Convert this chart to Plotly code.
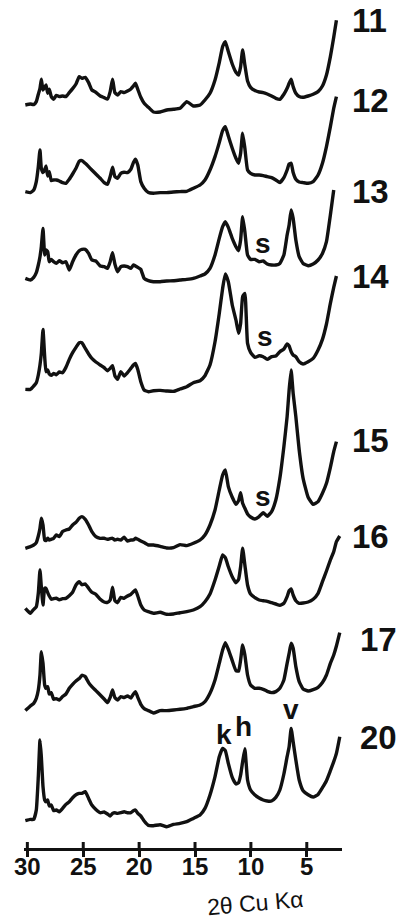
import plotly.graph_objects as go

# Common 2-theta scan grid (degrees, Cu K-alpha)
two_theta = [30.18, 29.73, 29.43, 29.20, 29.02, 28.87, 28.75, 28.60, 28.45, 28.33,
             28.18, 28.04, 27.86, 27.65, 27.41, 27.14, 26.85, 26.55, 26.25, 25.95,
             25.65, 25.36, 25.12, 24.82, 24.52, 24.23, 23.87, 23.48, 23.13, 22.83,
             22.59, 22.38, 22.17, 21.93, 21.64, 21.34, 21.04, 20.74, 20.51, 20.33,
             20.12, 19.85, 19.55, 19.17, 18.72, 18.12, 17.53, 16.93, 16.34, 15.74,
             15.15, 14.55, 14.11, 13.66, 13.21, 12.83, 12.53, 12.29, 12.02, 11.67,
             11.34, 11.10, 10.92, 10.74, 10.54, 10.30, 10.03, 9.64, 9.26, 8.90,
             8.54, 8.15, 7.77, 7.41, 7.05, 6.76, 6.58, 6.40, 6.22, 5.98,
             5.68, 5.33, 4.88, 4.43, 3.99, 3.60, 3.24, 2.89, 2.59, 2.35, 2.05]

# Diffracted intensity (arbitrary units) for each sample
sample_11 = [8.3, 9.3, 8.7, 11.7, 19, 25, 34, 23.3, 26, 28.3,
             20, 24, 16.7, 14, 18, 16.7, 17.3, 16.7, 20.7, 24.7,
             29.3, 36.7, 35, 36, 30.7, 23.3, 21, 17.3, 15.7, 14.3,
             21.7, 34, 20.7, 18.3, 21.7, 20.7, 22.3, 24.3, 27.3, 30,
             24, 16, 10, 6, 1.3, 1.3, 3.3, 4, 5, 11.7,
             7.3, 8.3, 13.3, 20, 33.3, 50.7, 66.7, 71.7, 61.7, 49.3,
             41, 38.3, 46.7, 63.3, 48.3, 32.3, 26, 22.7, 21.3, 20.7,
             19.3, 17.3, 15, 14, 19, 25, 30, 34, 26.7, 20,
             16.7, 16, 17.3, 19, 21.7, 27.3, 38.3, 56.7, 76, 93, None]

sample_12 = [1.7, 0.7, 3.3, 11.7, 26.7, 43.3, 25, 20.7, 23.3, 27.3,
             17.3, 21.7, 12.7, 13.3, 13.3, 12.3, 10.7, 10, 14, 19.3,
             25, 32, 32.7, 30, 26.7, 23.3, 19.3, 15, 10.7, 9,
             16.7, 26, 16.7, 15, 20, 21, 20.7, 24, 30.7, 34,
             28.3, 11.7, 5, 0.7, 0, 0.7, 0.7, 1.3, 1.7, 2,
             5, 8.3, 13.3, 23.3, 36.7, 50.7, 62.7, 66.7, 57.3, 45,
             35, 30, 40, 60, 45, 23.3, 20, 18.3, 18.3, 17.7,
             16.7, 15.7, 13.3, 10.7, 15.7, 23.3, 29.3, 30, 20.7, 14,
             11.3, 10.7, 10, 11.7, 18.3, 30, 46.7, 66.7, 85, 96.7, None]

sample_13 = [3.3, 1.7, 4.3, 9, 16.7, 25, 35, 53.3, 26.7, 31.7,
             30, 20, 22.3, 20, 18.3, 21, 19, 20, 11.7, 20,
             26.7, 31, 32.3, 32.3, 28.3, 21.7, 20.7, 15.7, 15, 13.3,
             20, 29, 17.7, 10, 15, 15.7, 15, 13.3, 16.7, 15.7,
             14.3, 12.3, 3.3, 1, 0, 0, 0.7, 1, 1.7, 2.3,
             3.3, 5.7, 7.7, 13.3, 26.7, 43.3, 55, 60, 54.3, 43.3,
             35, 31, 41.7, 65, 50, 26.7, 22.3, 22.3, 20, 20.7,
             17.7, 16.7, 16.7, 18.3, 26.7, 46.7, 56.7, 71.7, 63.3, 41.7,
             25, 18.3, 16, 17.7, 21.7, 28.3, 40, 66.7, 91.7, None, None]

sample_14 = [2.3, 2.3, 5.7, 9, 16.7, 26.7, 38.3, 62.3, 35, 20,
             21.7, 17.7, 16.3, 18.3, 17, 19.7, 19, 24.3, 32.3, 39,
             44.3, 49, 49, 43.3, 37.7, 33.3, 29.7, 26.7, 24, 21,
             23.3, 26, 16, 12.3, 20, 15.7, 19, 23.3, 26.7, 28.3,
             22.3, 10, 1.7, 0, 1, 1.3, 0.7, 0.3, 2.7, 5,
             9, 11, 16, 26.7, 50, 78.3, 103.3, 117.7, 110, 86.7,
             71.7, 58.3, 68.3, 95, 98.3, 48.3, 39.3, 34.3, 36, 35,
             32.3, 35, 35.7, 40, 42.7, 47.7, 45.7, 40, 36.7, 35,
             30, 27.7, 30, 33.3, 41.7, 52.3, 67.7, 88.3, 104.3, 115.7, None]

sample_15 = [0, 1.7, 3.3, 5.7, 12.3, 20, 30, 23.3, 8.3, 7.7,
             10, 8.3, 9, 10, 13.3, 11.7, 16.7, 18.3, 19.3, 23.3,
             26, 30, 31.7, 29, 23.3, 16.7, 11.7, 10, 10, 9,
             9.7, 10, 8.3, 9, 8.3, 11, 7.3, 8.3, 8.3, 10,
             9, 7.3, 5.7, 3.3, 3.3, 2, 0.3, 0.7, 3.7, 2.7,
             5, 8.3, 13.3, 23.3, 38.3, 58.3, 73.3, 78.3, 61.7, 51,
             44, 47.7, 55.7, 45, 40, 34.3, 31.3, 29.3, 31.7, 35.7,
             32, 36.7, 48.3, 70, 101.7, 131.7, 158.3, 178.3, 155, 131.7,
             98.3, 70, 51, 44, 46.7, 55, 65, 81, 96.7, 106.7, None]

sample_16 = [6.7, 1.7, 5.7, 8.3, 21.7, 45, 28.3, 10, 26.7, 26.7,
             22.3, 19, 15.7, 16.3, 16.7, 15.3, 16.3, 16.7, 19.3, 22.7,
             30, 33.3, 30.3, 31, 26.7, 22.7, 20.7, 15.7, 13, 12.7,
             15, 27.7, 14.3, 12.3, 17.7, 16.7, 19, 20.7, 23.3, 25,
             19, 10, 5, 3.3, 1.7, 2.7, 0.7, 1, 2.3, 3.3,
             5, 8.3, 13.3, 21, 35, 49, 60, 57.3, 48.3, 38.3,
             32.3, 35.7, 48.3, 66.7, 50, 30, 21, 17.3, 15, 14.3,
             13.7, 12.3, 11, 9.7, 11.7, 18.3, 24.3, 26, 20, 14.3,
             11.7, 12, 13, 15.7, 21.7, 33.3, 44, 55, 63.3, 73.3, 79]

sample_17 = [2.7, 7.3, 10, 15, 23.3, 38.3, 61.7, 50, 28.3, 25,
             26.7, 19.3, 20.7, 14, 14.7, 13.3, 16.7, 19.3, 25, 29,
             32.3, 34.7, 38, 36.7, 30.7, 26.7, 22.7, 18.3, 14.3, 10.7,
             16, 23.3, 15.7, 13.3, 16.7, 15.7, 17.3, 15.3, 19.3, 21.7,
             16, 9, 4.7, 2.7, 0.3, 2.7, 2.7, 3.3, 4, 5,
             6.7, 8.3, 11.7, 20, 33.3, 50, 63.3, 70.7, 64, 52.7,
             42.7, 42.3, 53.3, 68.3, 58.3, 38.3, 28.3, 25, 25, 24,
             22, 20.7, 21.7, 25, 33.3, 50, 60, 70, 65, 46.7,
             31.7, 24.3, 22.3, 23.7, 26, 30.7, 38.3, 50, 58.3, 67.3, 80.7]

sample_20 = [6, 7.3, 7.3, 16.7, 50, 86.7, 70, 40, 26.7, 25,
             26.7, 20.7, 21.7, 16, 16.7, 15, 18.3, 22.3, 25, 29,
             32, 33.3, 33.3, 35, 28.3, 21.7, 17.3, 14, 14.7, 12.7,
             10.7, 13.3, 14, 13.3, 14, 15, 14, 14, 16, 16.7,
             13.3, 10.7, 5.7, 1.3, 1, 2, 0, 2.3, 3.3, 5,
             8.3, 11.7, 18.3, 31.7, 50, 70, 78.3, 76, 63.3, 49.3,
             42.7, 44, 51.7, 65, 78, 46.7, 36.7, 31.7, 28.7, 26.7,
             25.7, 25.7, 29.3, 36.7, 52.7, 70, 80, 98.3, 85, 66.7,
             46.7, 36, 32, 29.7, 32.3, 39, 46, 56, 65, 73.3, 90]

sample_names = ["11", "12", "13", "14", "15", "16", "17", "20"]
sample_series = [sample_11, sample_12, sample_13, sample_14,
                 sample_15, sample_16, sample_17, sample_20]

# Peak labels: s, k, h, v
peak_letters = ["s", "s", "s", "k", "h", "v"]

tick_values = [30, 25, 20, 15, 10, 5]
tick_text = ["30", "25", "20", "15", "10", "5"]

# ---- styling / layout ----
W, H = 402, 920
M_L, M_R, M_T, M_B = 24, 60, 0, 72
PLOT_W = W - M_L - M_R
PLOT_H = H - M_T - M_B
INK = "#111111"
FONT = "Liberation Sans, Arial, Helvetica, sans-serif"

# vertical stacking of the patterns
stack_offset = [734.7, 654.7, 566.3, 456.3, 299.7, 233.0, 134.7, 21.3]

# label placement (page pixels)
name_pos = [(350, 20), (350, 101), (350, 192), (350, 276),
            (350, 440), (350, 537), (358, 639), (358, 737)]
peak_pos = [(263, 243), (265, 336), (263, 496), (224, 734), (243, 726), (291, 709)]


def paper_x(px):
    return (px - M_L) / PLOT_W


def paper_y(py):
    return (H - M_B - py) / PLOT_H


fig = go.Figure()
for name, series, off in zip(sample_names, sample_series, stack_offset):
    fig.add_trace(go.Scatter(
        x=two_theta,
        y=[None if v is None else v + off for v in series],
        mode="lines",
        name=name,
        line=dict(color=INK, width=3.4, shape="spline", smoothing=0.4),
        connectgaps=False,
        hoverinfo="skip",
        showlegend=False,
    ))

annotations = []
for name, (px, py) in zip(sample_names, name_pos):
    annotations.append(dict(
        text=name, xref="paper", yref="paper", x=paper_x(px), y=paper_y(py),
        xanchor="left", yanchor="middle", showarrow=False,
        font=dict(family=FONT, size=33, color=INK, weight="bold"),
    ))
for letter, (px, py) in zip(peak_letters, peak_pos):
    annotations.append(dict(
        text=letter, xref="paper", yref="paper", x=paper_x(px), y=paper_y(py),
        xanchor="center", yanchor="middle", showarrow=False,
        font=dict(family=FONT, size=28, color=INK, weight="bold"),
    ))
annotations.append(dict(
    text="2θ Cu Kα", xref="paper", yref="paper", x=paper_x(255), y=paper_y(903),
    xanchor="center", yanchor="middle", showarrow=False, textangle=-5,
    font=dict(family=FONT, size=23, color=INK),
))

# upward half of the tick marks crossing the axis line
shapes = [dict(type="line", xref="x", yref="paper", x0=t, x1=t,
               y0=0, y1=6 / PLOT_H, line=dict(color=INK, width=3))
          for t in tick_values]

fig.update_layout(
    width=W, height=H, autosize=False,
    margin=dict(l=M_L, r=M_R, t=M_T, b=M_B, pad=0),
    paper_bgcolor="white", plot_bgcolor="white",
    xaxis=dict(
        range=[30.3, 1.85], showgrid=False, zeroline=False,
        showline=True, linecolor=INK, linewidth=3,
        tickmode="array", tickvals=tick_values, ticktext=tick_text,
        ticks="outside", ticklen=6, tickwidth=3, tickcolor=INK,
        ticklabelstandoff=-11,
        tickfont=dict(family=FONT, size=24, color=INK, weight="bold"),
    ),
    yaxis=dict(range=[0, PLOT_H], visible=False, showgrid=False, zeroline=False),
    annotations=annotations,
    shapes=shapes,
)

fig.write_html("out.html", config={"displayModeBar": False})
